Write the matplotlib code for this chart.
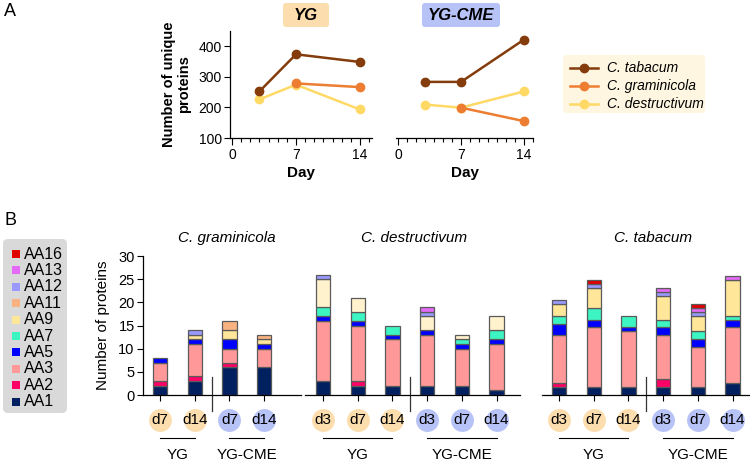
import numpy as np
import matplotlib.pyplot as plt
from matplotlib.patches import FancyBboxPatch, Rectangle
from matplotlib.ticker import MultipleLocator
import matplotlib.transforms as mtrans

plt.rcParams['font.family'] = ['Liberation Sans Narrow', 'Liberation Sans', 'DejaVu Sans']

# ---- panel A data (unique proteins per day) ----
days = [3, 7, 14]
days_gram = [7, 14]
yg_tab = [252, 373, 348]
yg_gram = [278, 266]
yg_des = [226, 274, 193]
cme_tab = [283, 283, 421]
cme_gram = [199, 155]
cme_des = [209, 199, 252]

# ---- panel B data (AA family counts) ----
families = ['AA1', 'AA2', 'AA3', 'AA5', 'AA7', 'AA9', 'AA11', 'AA12', 'AA13', 'AA16']
gram_labels = ['d7', 'd14', 'd7', 'd14']
gram_counts = {
    'AA1': [2, 3, 6, 6], 'AA2': [1, 1, 1, 0], 'AA3': [4, 7, 3, 4], 'AA5': [1, 1, 2, 1],
    'AA7': [0, 0, 0, 0], 'AA9': [0, 1, 2, 1], 'AA11': [0, 0, 2, 1], 'AA12': [0, 1, 0, 0],
    'AA13': [0, 0, 0, 0], 'AA16': [0, 0, 0, 0]}
six_labels = ['d3', 'd7', 'd14', 'd3', 'd7', 'd14']
des_counts = {
    'AA1': [3, 2, 2, 2, 2, 1], 'AA2': [0, 1, 0, 0, 0, 0], 'AA3': [13, 12, 10, 11, 8, 10],
    'AA5': [1, 1, 1, 1, 1, 1], 'AA7': [2, 2, 2, 0, 1, 2], 'AA9': [6, 3, 0, 3, 1, 3],
    'AA11': [0, 0, 0, 0, 0, 0], 'AA12': [1, 0, 0, 1, 0, 0], 'AA13': [0, 0, 0, 1, 0, 0],
    'AA16': [0, 0, 0, 0, 0, 0]}
tab_counts = {
    'AA1': [2, 2, 2, 2, 2, 3], 'AA2': [1, 0, 0, 2, 0, 0], 'AA3': [12, 15, 14, 11, 10, 14],
    'AA5': [3, 2, 1, 2, 2, 2], 'AA7': [2, 3, 3, 2, 2, 1], 'AA9': [3, 5, 0, 6, 4, 9],
    'AA11': [0, 0, 0, 0, 0, 0], 'AA12': [1, 1, 0, 1, 1, 0], 'AA13': [0, 0, 0, 1, 1, 1],
    'AA16': [0, 1, 0, 0, 1, 0]}

fam_colors = {'AA1': '#002060', 'AA2': '#FF0066', 'AA3': '#FF9999', 'AA5': '#0000FF',
              'AA7': '#3CF5C3', 'AA9': '#FFE699', 'AA11': '#F9B380', 'AA12': '#9999FF',
              'AA13': '#E36BF5', 'AA16': '#E00000'}
c_tab, c_gram, c_des = '#843C0C', '#ED7D31', '#FFD966'
c_yg, c_cme = '#FCDDAE', '#B7C3F7'

W, H = 750, 461
fig = plt.figure(figsize=(7.5, 4.61), dpi=100)


def px_axes(left, top, right, bottom):
    return fig.add_axes([left / W, 1 - bottom / H, (right - left) / W, (bottom - top) / H])


ov = fig.add_axes([0, 0, 1, 1])
ov.set_xlim(0, W)
ov.set_ylim(H, 0)
ov.axis('off')

ov.text(4, 12, 'A', fontsize=13, va='center', ha='left', family=['Liberation Sans'])
ov.text(4, 220, 'B', fontsize=13, va='center', ha='left', family=['Liberation Sans'])

# ---------------- panel A ----------------
def line_panel(ax, tab, gram, des):
    ax.plot(days, des, '-o', color=c_des, lw=1.8, ms=6)
    ax.plot(days_gram, gram, '-o', color=c_gram, lw=1.8, ms=6)
    ax.plot(days, tab, '-o', color=c_tab, lw=1.8, ms=6)
    ax.set_ylim(100, 450)
    ax.set_xticks([0, 7, 14])
    ax.xaxis.set_minor_locator(MultipleLocator(1))
    ax.tick_params(axis='x', which='major', length=5, width=0.8, labelsize=10, pad=2)
    ax.tick_params(axis='x', which='minor', length=3, width=0.8)
    ax.tick_params(axis='y', length=4, width=0.8, labelsize=10, pad=2)
    for s in ['top', 'right']:
        ax.spines[s].set_visible(False)
    ax.spines['bottom'].set_linewidth(0.9)
    ax.spines['left'].set_linewidth(0.9)
    ax.patch.set_alpha(0)
    ax.set_xlabel('Day', fontweight='bold', fontsize=11, labelpad=3,
                  family=['Liberation Sans'])


ax1 = px_axes(230.2, 30.7, 371.8, 138)
ax1.set_xlim(-0.2, 15.3)
line_panel(ax1, yg_tab, yg_gram, yg_des)
ax1.set_yticks([100, 200, 300, 400])
ax1.set_ylabel('Number of unique\nproteins', fontweight='bold', fontsize=10.5,
               labelpad=5, linespacing=1.1, family=['Liberation Sans'])

ax2 = px_axes(396.2, 30.7, 533, 138)
ax2.set_xlim(-0.2, 15)
line_panel(ax2, cme_tab, cme_gram, cme_des)
ax2.spines['left'].set_visible(False)
ax2.set_yticks([])

# title boxes
for cx, wbox, txt, col in [(306, 46, 'YG', c_yg), (461, 78, 'YG-CME', c_cme)]:
    ov.add_patch(FancyBboxPatch((cx - wbox / 2 + 3, 6), wbox - 6, 18,
                                boxstyle='round,pad=3', fc=col, ec='none'))
    ov.text(cx, 15.5, txt, ha='center', va='center', fontsize=12,
            fontweight='bold', style='italic', family=['Liberation Sans'])

# panel A legend
ov.add_patch(FancyBboxPatch((567, 59), 134, 50, boxstyle='round,pad=4',
                            fc='#FEF6E1', ec='none'))
for yy, name, col in [(68, 'C. tabacum', c_tab), (86, 'C. graminicola', c_gram),
                      (104, 'C. destructivum', c_des)]:
    ov.plot([570, 598], [yy, yy], color=col, lw=1.8)
    ov.plot([584], [yy], 'o', color=col, ms=6)
    ov.text(607, yy, name, style='italic', fontsize=10, va='center', ha='left')

# ---------------- panel B ----------------
spacing = 34.7
y_bot, y_top = 395, 256


def bar_panel(left_px, first_px, right_px, counts, labels, ymax, title, tfrac,
              overrides=None):
    lo = (left_px - first_px) / spacing
    hi = (right_px - first_px) / spacing
    ax = px_axes(left_px, y_top, right_px, y_bot)
    ax.set_xlim(lo, hi)
    ax.set_ylim(0, ymax)
    ax.patch.set_alpha(0)
    n = len(labels)
    x = np.arange(n)
    bottom = np.zeros(n)
    for fam in families:
        vals = np.array(counts[fam], dtype=float)
        col = fam_colors[fam]
        if overrides and fam in overrides:
            col = overrides[fam]
        ecs = ['#5A5A5A' if v > 0 else 'none' for v in vals]
        ax.bar(x, vals, 0.41, bottom=bottom, color=col, edgecolor=ecs,
               linewidth=0.9, zorder=2)
        bottom += vals
    for s in ['top', 'right', 'left']:
        ax.spines[s].set_visible(False)
    ax.spines['bottom'].set_linewidth(0.9)
    ax.set_xticks(x)
    ax.set_xticklabels([''] * n)
    ax.tick_params(axis='x', length=4, width=0.8)
    ax.set_yticks([])
    tr = mtrans.blended_transform_factory(ax.transData, ax.transAxes)
    half = n // 2
    for i, lab in enumerate(labels):
        col = c_yg if i < half else c_cme
        ax.plot([i], [-0.18], 'o', ms=16.5, color=col, mec='none',
                transform=tr, clip_on=False)
        ax.text(i, -0.18, lab, ha='center', va='center', fontsize=11,
                transform=tr, clip_on=False)
    for a, b, g in [(0, half - 1, 'YG'), (half, n - 1, 'YG-CME')]:
        ax.plot([a, b], [-0.31, -0.31], color='black', lw=0.8,
                transform=tr, clip_on=False)
        ax.text((a + b) / 2, -0.43, g, ha='center', va='center', fontsize=11,
                transform=tr, clip_on=False)
    ax.plot([half - 0.5, half - 0.5], [0.13, -0.115], color='#333333', lw=0.9,
            transform=tr, clip_on=False)
    ax.text(tfrac, 1.13, title, transform=ax.transAxes, ha='center',
            va='center', style='italic', fontsize=11)
    return ax


axg = bar_panel(143, 160, 301, gram_counts, gram_labels, 30, 'C. graminicola', 0.53)
axg.spines['left'].set_visible(True)
axg.spines['left'].set_linewidth(0.9)
axg.set_yticks(range(0, 31, 5))
axg.tick_params(axis='y', length=4, width=0.8, labelsize=10.5, pad=2)
axg.set_ylabel('Number of proteins', fontsize=11, labelpad=6)

bar_panel(305, 323, 519.5, des_counts, six_labels, 30, 'C. destructivum', 0.51,
          overrides={'AA9': '#FFF2CC'})
bar_panel(542, 559, 750, tab_counts, six_labels, 35, 'C. tabacum', 0.535)

# panel B legend
ov.add_patch(FancyBboxPatch((8, 244), 54, 164, boxstyle='round,pad=5',
                            fc='#D9D9D9', ec='none'))
for k, fam in enumerate(families[::-1]):
    yy = 254 + k * 16.4
    ov.add_patch(Rectangle((12, yy - 4), 8, 8, fc=fam_colors[fam], ec='none'))
    ov.text(24, yy, fam, fontsize=11.5, va='center', ha='left')

fig.savefig('out.png', dpi=100)
